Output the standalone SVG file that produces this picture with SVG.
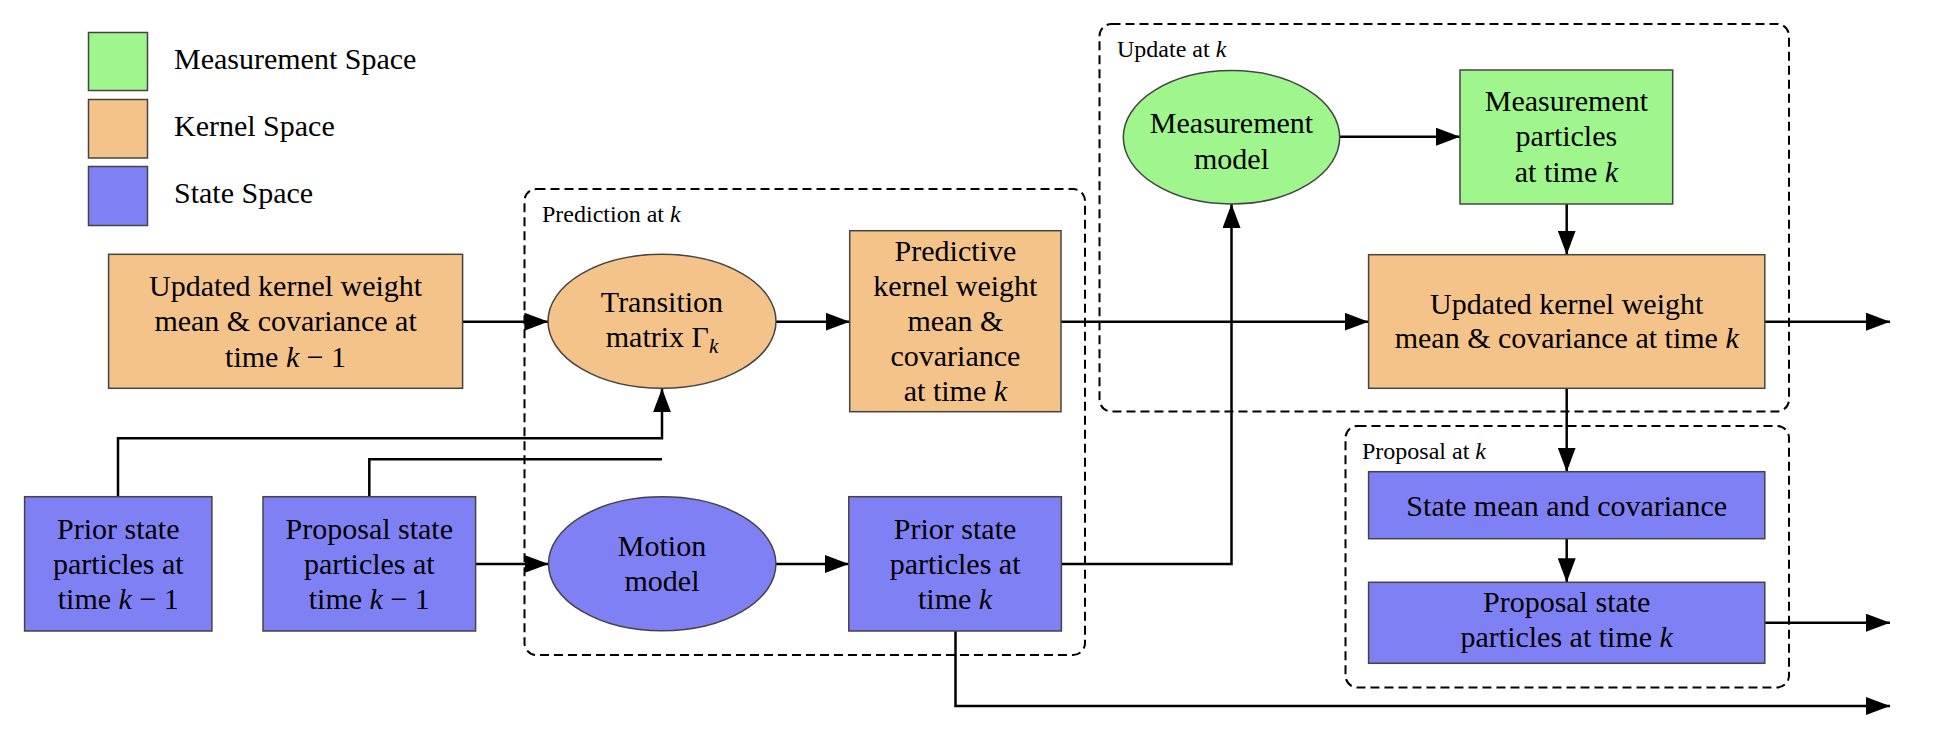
<svg xmlns="http://www.w3.org/2000/svg" width="1950" height="732" viewBox="0 0 1950 732">
<style>
text{font-family:"Liberation Serif","Times New Roman",serif;fill:#000}
.t{font-size:30px;text-anchor:middle}
.lg{font-size:30px}
.gl{font-size:24px}
.i{font-style:italic}
.g{fill:#9ef68c;stroke:#444;stroke-width:1.5}
.o{fill:#f4c38a;stroke:#444;stroke-width:1.5}
.b{fill:#8080f5;stroke:#444;stroke-width:1.5}
.grp{fill:none;stroke:#000;stroke-width:2;stroke-dasharray:9 5}
.c{fill:none;stroke:#000;stroke-width:2.5}
</style>
<defs>
<marker id="ah" markerUnits="userSpaceOnUse" markerWidth="24" markerHeight="18" refX="24" refY="9" orient="auto">
<path d="M0,0 L24,9 L0,18 z" fill="#000"/>
</marker>
</defs>
<rect width="1950" height="732" fill="#fff"/>
<g id="legend">
<rect class="g" x="88.5" y="32.5" width="59" height="58"/>
<rect class="o" x="88.5" y="99.5" width="59" height="58.5"/>
<rect class="b" x="88.5" y="166.5" width="59" height="59"/>
<text class="lg" x="174" y="68.5">Measurement Space</text>
<text class="lg" x="174" y="135.5">Kernel Space</text>
<text class="lg" x="174" y="202.5">State Space</text>
</g>
<g id="groups">
<rect class="grp" x="524.5" y="189" width="560.5" height="466" rx="12"/>
<text class="gl" x="542" y="221.5">Prediction at <tspan class="i">k</tspan></text>
<rect class="grp" x="1099.5" y="24" width="689.5" height="387.5" rx="12"/>
<text class="gl" x="1117" y="57">Update at <tspan class="i">k</tspan></text>
<rect class="grp" x="1345.5" y="426" width="443.5" height="261.5" rx="12"/>
<text class="gl" x="1362" y="459">Proposal at <tspan class="i">k</tspan></text>
</g>
<g id="connectors">
<path class="c" marker-end="url(#ah)" d="M462.5,321.7 H548.4"/>
<path class="c" marker-end="url(#ah)" d="M776,321.7 H849.7"/>
<path class="c" marker-end="url(#ah)" d="M1061,321.7 H1368.6"/>
<path class="c" marker-end="url(#ah)" d="M118,496.7 V438.3 H662 V388.3"/>
<path class="c" d="M369.3,496.7 V459.3 H662"/>
<path class="c" marker-end="url(#ah)" d="M475.6,564 H548.6"/>
<path class="c" marker-end="url(#ah)" d="M776,564 H848.8"/>
<path class="c" marker-end="url(#ah)" d="M1061.4,564 H1231.5 V204"/>
<path class="c" marker-end="url(#ah)" d="M955.5,631 V706 H1890"/>
<path class="c" marker-end="url(#ah)" d="M1339.7,136.7 H1460"/>
<path class="c" marker-end="url(#ah)" d="M1566.7,204 V254.7"/>
<path class="c" marker-end="url(#ah)" d="M1764.8,321.7 H1890"/>
<path class="c" marker-end="url(#ah)" d="M1566.7,388.3 V471.7"/>
<path class="c" marker-end="url(#ah)" d="M1566.7,538.7 V582.3"/>
<path class="c" marker-end="url(#ah)" d="M1764.8,622.7 H1890"/>
</g>
<g id="updated-k-1">
<rect class="o" x="108.6" y="254.3" width="354" height="134"/>
<text class="t" x="285.6" y="295.5">Updated kernel weight</text>
<text class="t" x="285.6" y="331">mean &amp; covariance at</text>
<text class="t" x="285.6" y="366.5">time <tspan class="i">k</tspan> − 1</text>
</g>
<g id="transition">
<ellipse class="o" cx="662" cy="321.3" rx="114" ry="67"/>
<text class="t" x="662" y="312">Transition</text>
<text class="t" x="662" y="347">matrix Γ<tspan class="i" font-size="21" dy="6">k</tspan></text>
</g>
<g id="predictive">
<rect class="o" x="849.7" y="230.7" width="211.3" height="181"/>
<text class="t" x="955.4" y="260.5">Predictive</text>
<text class="t" x="955.4" y="295.5">kernel weight</text>
<text class="t" x="955.4" y="331">mean &amp;</text>
<text class="t" x="955.4" y="366">covariance</text>
<text class="t" x="955.4" y="401">at time <tspan class="i">k</tspan></text>
</g>
<g id="prior-k-1">
<rect class="b" x="24.6" y="496.7" width="187.3" height="134.3"/>
<text class="t" x="118.3" y="538.5">Prior state</text>
<text class="t" x="118.3" y="573.5">particles at</text>
<text class="t" x="118.3" y="608.5">time <tspan class="i">k</tspan> − 1</text>
</g>
<g id="proposal-k-1">
<rect class="b" x="263" y="496.7" width="212.6" height="134.3"/>
<text class="t" x="369.3" y="538.5">Proposal state</text>
<text class="t" x="369.3" y="573.5">particles at</text>
<text class="t" x="369.3" y="608.5">time <tspan class="i">k</tspan> − 1</text>
</g>
<g id="motion">
<ellipse class="b" cx="662.2" cy="563.8" rx="113.7" ry="67"/>
<text class="t" x="662" y="555.5">Motion</text>
<text class="t" x="662" y="591">model</text>
</g>
<g id="prior-k">
<rect class="b" x="848.8" y="496.7" width="212.6" height="134.3"/>
<text class="t" x="955.1" y="538.5">Prior state</text>
<text class="t" x="955.1" y="573.5">particles at</text>
<text class="t" x="955.1" y="608.5">time <tspan class="i">k</tspan></text>
</g>
<g id="measurement-model">
<ellipse class="g" cx="1231.5" cy="137.3" rx="108.2" ry="66.7"/>
<text class="t" x="1231.5" y="133">Measurement</text>
<text class="t" x="1231.5" y="168.5">model</text>
</g>
<g id="measurement-particles">
<rect class="g" x="1460" y="70" width="212.7" height="134"/>
<text class="t" x="1566.4" y="110.5">Measurement</text>
<text class="t" x="1566.4" y="146">particles</text>
<text class="t" x="1566.4" y="181.5">at time <tspan class="i">k</tspan></text>
</g>
<g id="updated-k">
<rect class="o" x="1368.6" y="254.7" width="396.2" height="133.6"/>
<text class="t" x="1566.7" y="313.5">Updated kernel weight</text>
<text class="t" x="1566.7" y="348">mean &amp; covariance at time <tspan class="i">k</tspan></text>
</g>
<g id="state-mean">
<rect class="b" x="1368.6" y="471.7" width="396.2" height="67"/>
<text class="t" x="1566.7" y="515.5">State mean and covariance</text>
</g>
<g id="proposal-k">
<rect class="b" x="1368.6" y="582.3" width="396.2" height="81"/>
<text class="t" x="1566.7" y="612">Proposal state</text>
<text class="t" x="1566.7" y="647">particles at time <tspan class="i">k</tspan></text>
</g>
</svg>
